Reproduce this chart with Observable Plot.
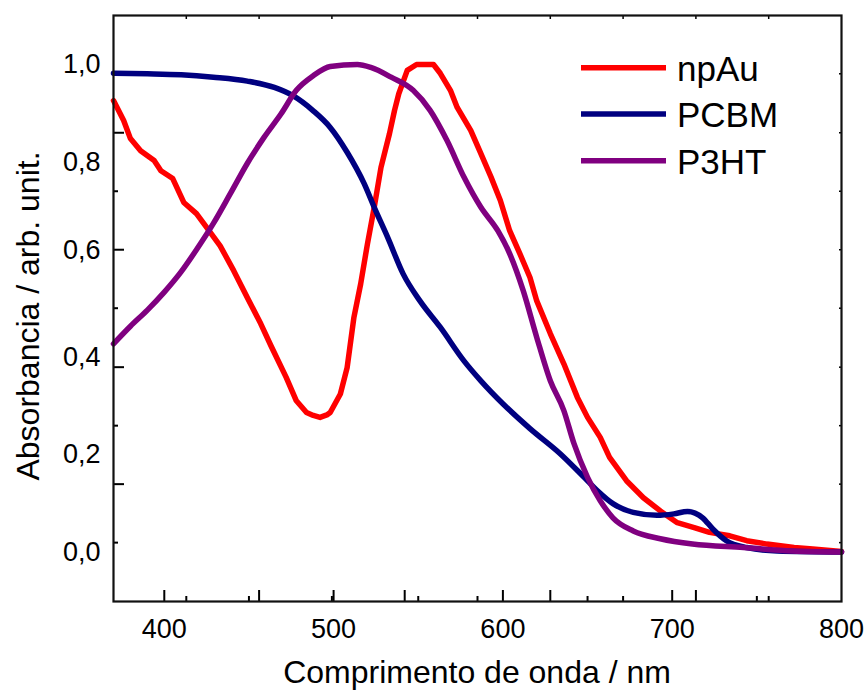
<!DOCTYPE html>
<html><head><meta charset="utf-8">
<script src="https://cdn.jsdelivr.net/npm/d3@7"></script>
<script src="https://cdn.jsdelivr.net/npm/@observablehq/plot@0.6"></script>
<style>body{margin:0;background:#fff;} #chart{width:867px;height:692px;}</style>
</head><body><div id="chart"></div>
<script>
const seriesNames = ["npAu", "PCBM", "P3HT"];
const seriesColors = ["#ff0000", "#000080", "#800080"];

const npAuWavelength = [370,376,380,386,394,398,405,411.5,419,425,433,441,449,457,463,472,478,484,488,492,496,498,504,508,512,516,520,524,528,533,536,538.5,543.5,549,559,563,569,573,581,587,593,598.5,604,610,616,620,628,636,644,650,657.5,663,673,683,693,703,713,722,734,744,756,772,783,800];
const npAuAbs = [0.926,0.885,0.848,0.823,0.803,0.782,0.766,0.717,0.694,0.666,0.628,0.577,0.522,0.468,0.423,0.358,0.310,0.286,0.280,0.276,0.281,0.286,0.324,0.378,0.481,0.550,0.632,0.707,0.789,0.858,0.906,0.940,0.988,1.0,1.0,0.982,0.947,0.912,0.865,0.817,0.769,0.721,0.659,0.612,0.563,0.515,0.448,0.386,0.317,0.276,0.235,0.194,0.146,0.111,0.084,0.060,0.050,0.040,0.033,0.023,0.016,0.009,0.006,0.001];

const pcbmWavelength = [370,390,410,429,449,465,476,488,498,508,518,524,532,541,551,563,577,587,600,616,634,648,656,665,677,691,701,709,718,724,732,744,762,800];
const pcbmAbs = [0.982,0.981,0.979,0.974,0.966,0.953,0.936,0.905,0.871,0.820,0.756,0.707,0.645,0.571,0.515,0.461,0.392,0.351,0.304,0.253,0.201,0.153,0.125,0.099,0.081,0.075,0.078,0.083,0.070,0.047,0.023,0.009,0.002,0.000];

const p3htWavelength = [370,380,390,400,410,419,429,439,449,459,469,478,488,498,514,522,534,547,557,567,577,587,597,604,612,620,628,636,642,650,657.5,665,677,693,712,742,771,800];
const p3htAbs = [0.427,0.463,0.496,0.533,0.575,0.620,0.674,0.735,0.797,0.851,0.899,0.947,0.977,0.996,1.000,0.994,0.974,0.947,0.906,0.844,0.769,0.707,0.659,0.612,0.536,0.440,0.351,0.290,0.222,0.153,0.105,0.070,0.043,0.027,0.016,0.009,0.002,0.000];

// axis ticks as they appear in the original figure
const xLabelTicks = [400, 500, 600, 700, 800];
const xMajorTicksA = [400, 500, 600, 700];
const xMinorTicksA = [450, 550, 650, 750];
const xMajorTicksB = [456, 542, 628, 714];
const xMinorTicksB = [413, 499, 585, 671, 757];
const yMajorTicks = [0.139, 0.379, 0.620, 0.860];
const yMinorTicks = [0.019, 0.259, 0.500, 0.740, 0.981];
const yLabelValues = [0, 0.2, 0.4, 0.618, 0.8, 1.0];
const yLabelTexts = ["0,0", "0,2", "0,4", "0,6", "0,8", "1,0"];

const xTitle = "Comprimento de onda / nm";
const yTitle = "Absorbancia / arb. unit.";

const toRows = (name, wl, ab) => wl.map((w, i) => ({series: name, wl: w, abs: ab[i]}));
const series = [
  toRows("npAu", npAuWavelength, npAuAbs),
  toRows("PCBM", pcbmWavelength, pcbmAbs),
  toRows("P3HT", p3htWavelength, p3htAbs)
];
const seriesCurves = ["linear", "monotone-x", "monotone-x"];

const font = "'Liberation Sans', Arial, Helvetica, sans-serif";
const W = 867, H = 692;
const mL = 113, mR = 26, mT = 15, mB = 91;
const noText = () => "";

const plot = Plot.plot({
  width: W, height: H,
  marginLeft: mL, marginRight: mR, marginTop: mT, marginBottom: mB,
  x: {domain: [370, 800]},
  y: {domain: [-0.1018, 1.1006]},
  style: {fontFamily: font, fontSize: "27px", color: "black", background: "white", overflow: "visible"},
  marks: [
    Plot.axisX(xLabelTicks, {tickSize: 0, tickPadding: 17, fontSize: 27, label: null}),
    Plot.axisY(yLabelValues, {tickSize: 0, tickPadding: 13, fontSize: 27, label: null,
      tickFormat: d => yLabelTexts[yLabelValues.indexOf(d)]}),
    Plot.axisX([...xMajorTicksA, ...xMajorTicksB], {tickSize: 11, dy: -11, strokeWidth: 2, tickFormat: noText, label: null}),
    Plot.axisX([...xMinorTicksA, ...xMinorTicksB], {tickSize: 5, dy: -5, strokeWidth: 2, tickFormat: noText, label: null}),
    Plot.axisX([...xMajorTicksB, ...xMinorTicksB], {anchor: "top", tickSize: 3, dy: 3, strokeWidth: 1.5, tickFormat: noText, label: null}),
    Plot.axisY(yMajorTicks, {tickSize: 11, dx: 11, strokeWidth: 2, tickFormat: noText, label: null}),
    Plot.axisY(yMinorTicks, {tickSize: 5, dx: 5, strokeWidth: 2, tickFormat: noText, label: null}),
    Plot.axisY([...yMajorTicks, ...yMinorTicks], {anchor: "right", tickSize: 3, dx: -3, strokeWidth: 1.5, tickFormat: noText, label: null}),
    ...series.map((rows, i) => Plot.line(rows, {x: "wl", y: "abs", stroke: seriesColors[i], strokeWidth: 5.5, strokeLinejoin: "round", curve: seriesCurves[i]})),
    Plot.frame({stroke: "#111", strokeWidth: 2.2})
  ]
});

const svg = d3.select(plot);
svg.append("text")
  .attr("x", (mL + W - mR) / 2).attr("y", 683)
  .attr("text-anchor", "middle")
  .attr("font-family", font).attr("font-size", 32).attr("fill", "black")
  .text(xTitle);
svg.append("text")
  .attr("transform", "translate(39,316) rotate(-90)")
  .attr("text-anchor", "middle")
  .attr("font-family", font).attr("font-size", 32).attr("fill", "black")
  .text(yTitle);

const legend = svg.append("g");
const legendY = [67.7, 114, 160.7];
seriesNames.forEach((name, i) => {
  legend.append("line")
    .attr("x1", 581).attr("x2", 666)
    .attr("y1", legendY[i]).attr("y2", legendY[i])
    .attr("stroke", seriesColors[i]).attr("stroke-width", 5.5);
  legend.append("text")
    .attr("x", 677).attr("y", legendY[i]).attr("dy", "0.37em")
    .attr("text-anchor", "start")
    .attr("font-family", font).attr("font-size", 35).attr("fill", "black")
    .text(name);
});

document.getElementById("chart").appendChild(plot);
</script>
</body></html>
